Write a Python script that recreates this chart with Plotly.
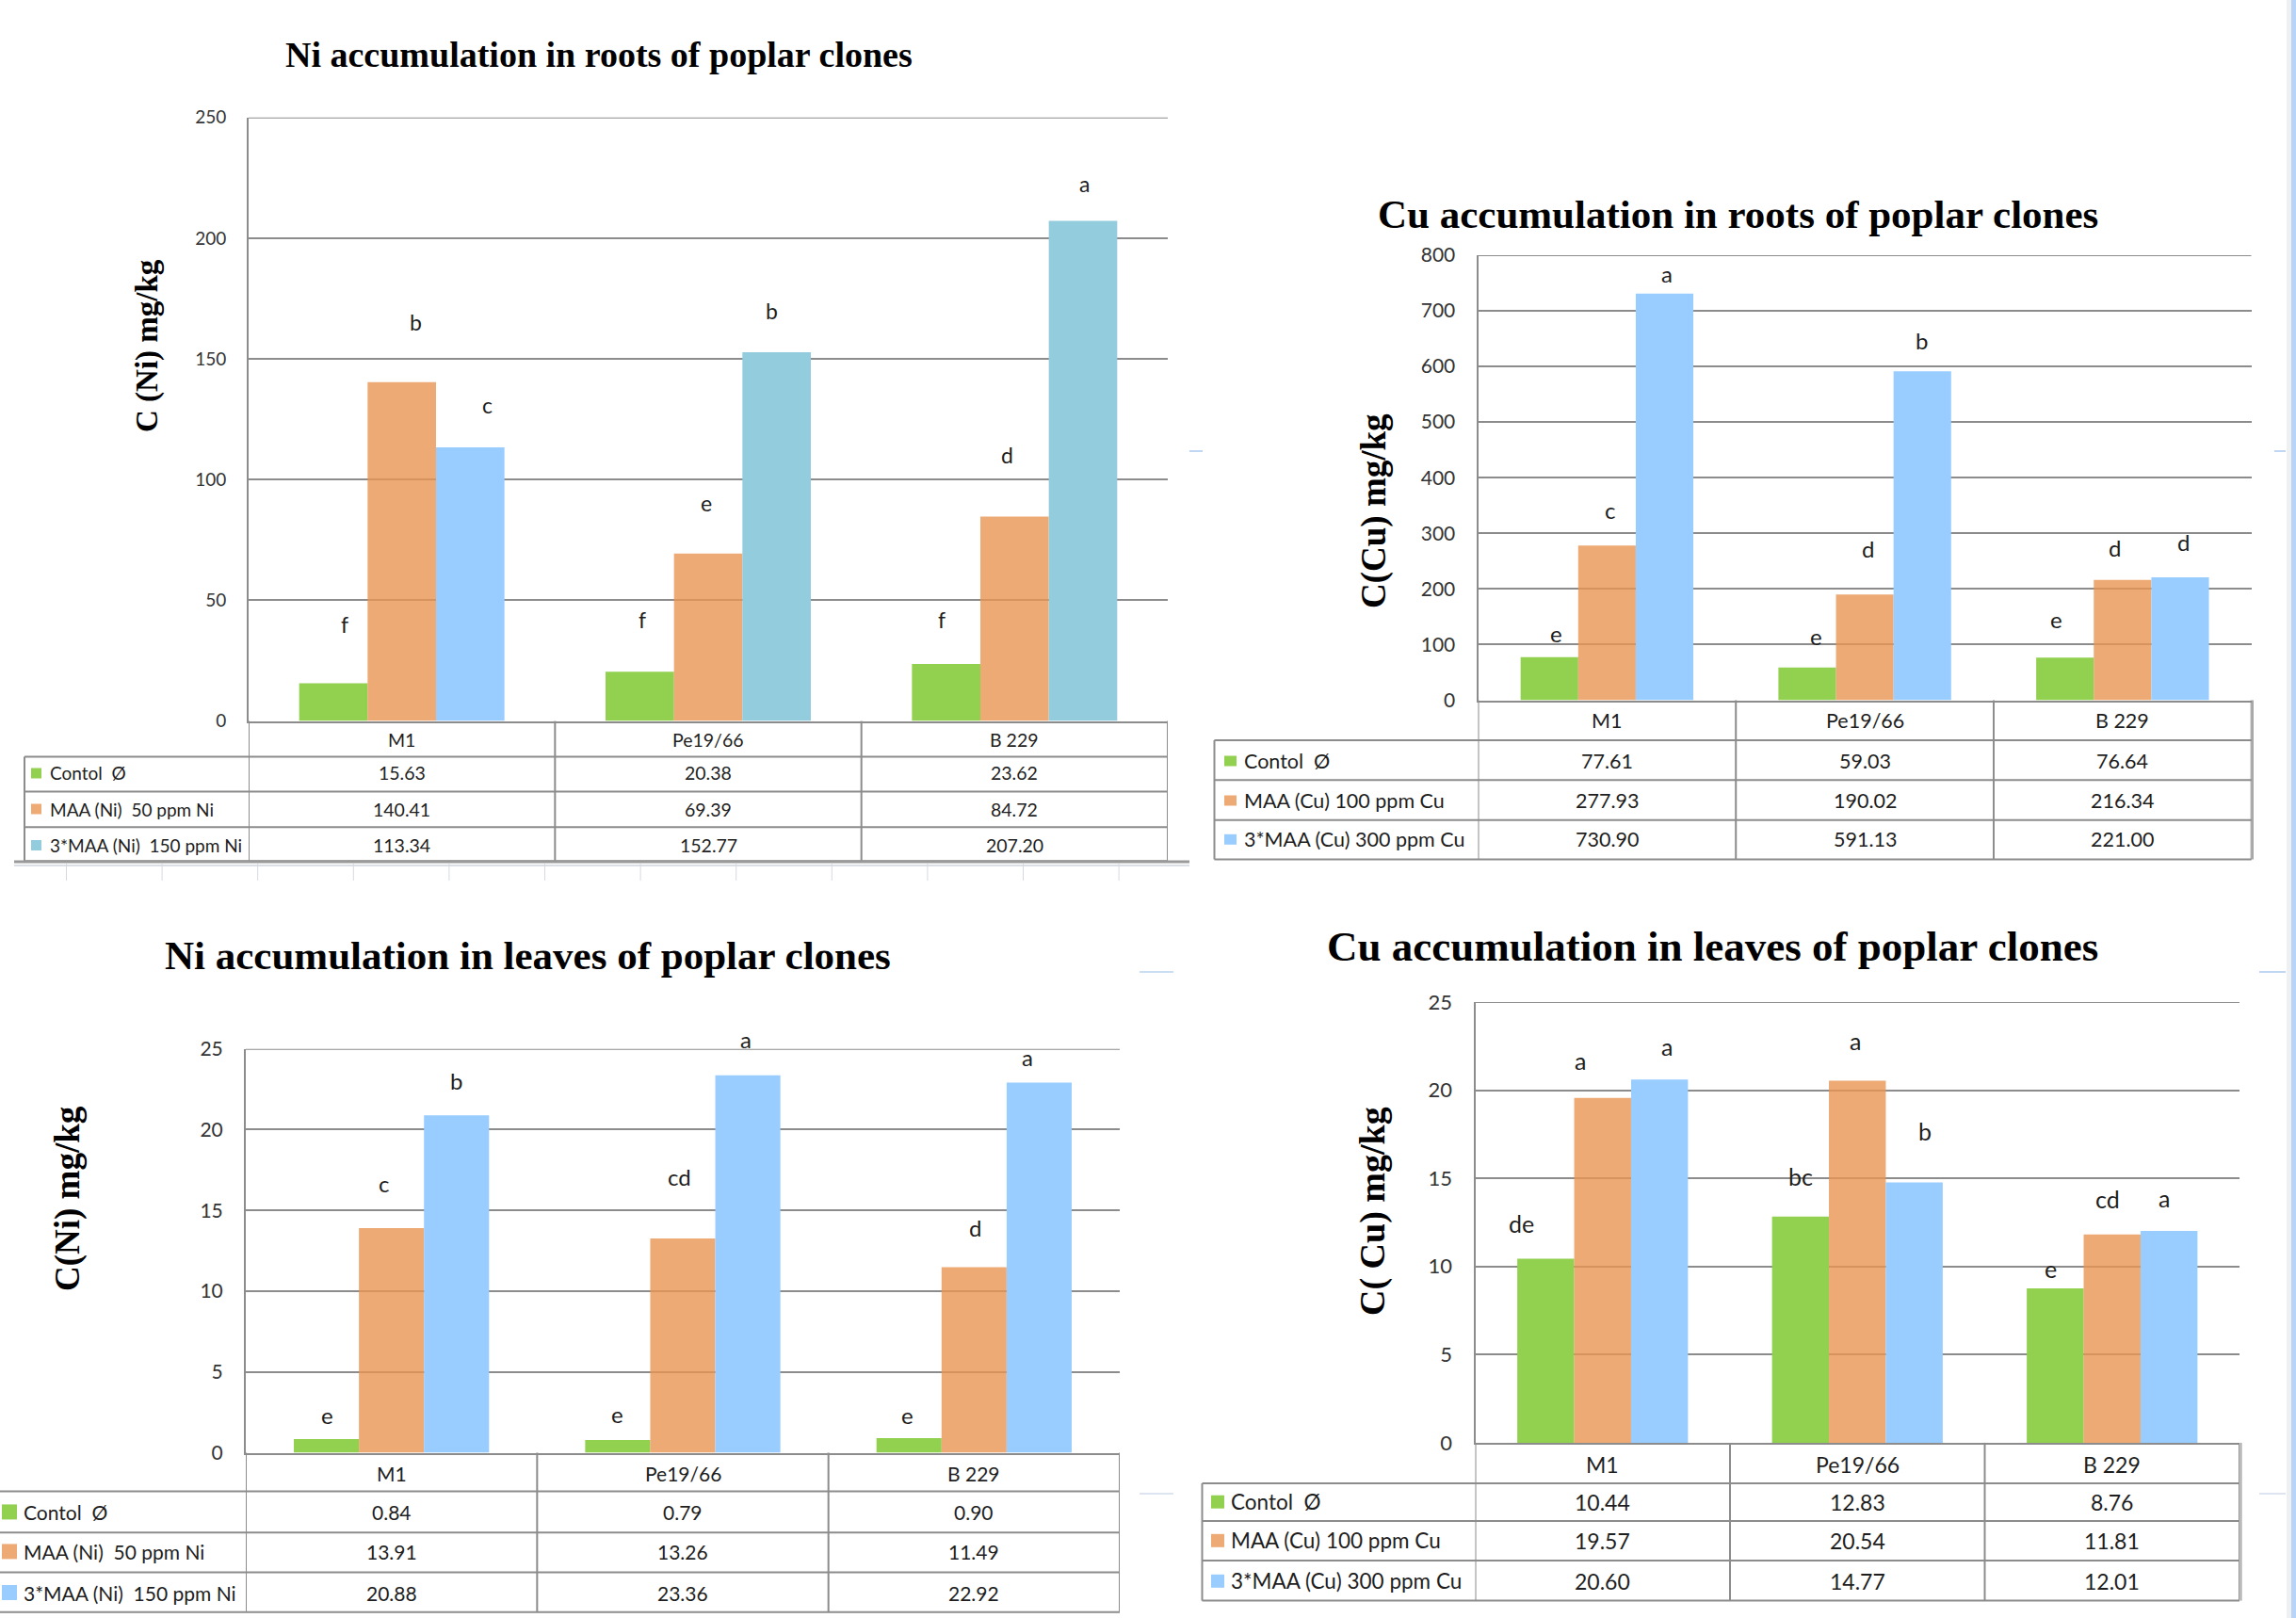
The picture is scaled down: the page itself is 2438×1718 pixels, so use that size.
import plotly.graph_objects as go

W, H = 2438, 1718

# ---------------- data ----------------
clones = ["M1", "Pe19/66", "B 229"]
ni_treatments = ["Contol\u00a0 Ø", "MAA (Ni)\u00a0 50 ppm Ni", "3*MAA (Ni)\u00a0 150 ppm Ni"]
cu_treatments = ["Contol\u00a0 Ø", "MAA (Cu) 100 ppm Cu", "3*MAA (Cu) 300 ppm Cu"]

# Ni accumulation in roots (mg/kg)
ni_roots_control = [15.63, 20.38, 23.62]
ni_roots_maa = [140.41, 69.39, 84.72]
ni_roots_3maa = [113.34, 152.77, 207.20]
ni_roots_sig = [["f", "f", "f"], ["b", "e", "d"], ["c", "b", "a"]]

# Cu accumulation in roots (mg/kg)
cu_roots_control = [77.61, 59.03, 76.64]
cu_roots_maa = [277.93, 190.02, 216.34]
cu_roots_3maa = [730.90, 591.13, 221.00]
cu_roots_sig = [["e", "e", "e"], ["c", "d", "d"], ["a", "b", "d"]]

# Ni accumulation in leaves (mg/kg)
ni_leaves_control = [0.84, 0.79, 0.90]
ni_leaves_maa = [13.91, 13.26, 11.49]
ni_leaves_3maa = [20.88, 23.36, 22.92]
ni_leaves_sig = [["e", "e", "e"], ["c", "cd", "d"], ["b", "a", "a"]]

# Cu accumulation in leaves (mg/kg)
cu_leaves_control = [10.44, 12.83, 8.76]
cu_leaves_maa = [19.57, 20.54, 11.81]
cu_leaves_3maa = [20.60, 14.77, 12.01]
cu_leaves_sig = [["de", "bc", "e"], ["a", "a", "cd"], ["a", "b", "a"]]

# ---------------- styling ----------------
GREEN = "#92D050"
ORANGE_BAR = "rgb(233,149,83)"   # drawn at 0.8 opacity so the grid shows through
ORANGE = "#EDAA75"
BLUE = "#99CCFF"
TEAL = "#93CDDD"
GRID = "#8C8C8C"
TXT = "#1E1E1E"
SANS = "Lato, 'Liberation Sans', sans-serif"
SERIF = "'Liberation Serif', 'Times New Roman', serif"
BARGAP = 0.33

panels = [
    dict(title="Ni accumulation in roots of poplar clones", ytitle="C (Ni) mg/kg",
         series=[ni_roots_control, ni_roots_maa, ni_roots_3maa], sig=ni_roots_sig,
         names=ni_treatments, ymax=250, dtick=50,
         colors=[GREEN, ORANGE_BAR, [BLUE, TEAL, TEAL]], swatch=[GREEN, ORANGE, TEAL],
         box=(264, 1240, 124.7, 765.6), rows=[803.4, 840.5, 878.3, 914.3],
         text_y=[785, 821, 859, 897.5], table_left=26, label_x=51, swatch_x=(33, 44), swatch_h=11,
         title_xy=(636, 58), title_size=38, ytitle_xy=(157, 367), ytitle_size=33,
         tick_size=19, cell_size=19.5, label_size=19, letter_size=23,
         dy=[[63, 55, 47], [64, 54, 65], [45, 44, 39]],
         dx=[[12, 3, -5], [15, -2, -8], [18, -5, 2]]),
    dict(title="Cu accumulation in roots of poplar clones", ytitle="C(Cu) mg/kg",
         series=[cu_roots_control, cu_roots_maa, cu_roots_3maa], sig=cu_roots_sig,
         names=cu_treatments, ymax=800, dtick=100,
         colors=[GREEN, ORANGE_BAR, BLUE], swatch=[GREEN, ORANGE, BLUE],
         box=(1569.5, 2390.7, 270.9, 743.5), rows=[786, 828.3, 870.7, 912.5],
         text_y=[765.4, 808, 850, 891.3], table_left=1289.5, label_x=1318.5, swatch_x=(1300, 1313), swatch_h=11,
         title_xy=(1845, 227), title_size=43, ytitle_xy=(1459, 543), ytitle_size=37,
         tick_size=21, cell_size=21.5, label_size=21.5, letter_size=24,
         dy=[[25, 33, 41], [38, 49, 34], [21, 33, 37]],
         dx=[[7, 10, -9], [3, 3, -8], [2, -1, 4]]),
    dict(title="Ni accumulation in leaves of poplar clones", ytitle="C(Ni) mg/kg",
         series=[ni_leaves_control, ni_leaves_maa, ni_leaves_3maa], sig=ni_leaves_sig,
         names=ni_treatments, ymax=25, dtick=5,
         colors=[GREEN, ORANGE_BAR, BLUE], swatch=[GREEN, ORANGE, BLUE],
         box=(261, 1189, 1113.7, 1542.5), rows=[1583.5, 1627.2, 1669.5, 1711.7],
         text_y=[1564, 1605.4, 1647.4, 1691], table_left=-2, label_x=22.7, swatch_x=(2, 18), swatch_h=16,
         title_xy=(560, 1014), title_size=43, ytitle_xy=(72, 1273), ytitle_size=37,
         tick_size=21, cell_size=21, label_size=21, letter_size=24,
         dy=[[26, 27, 25], [47, 66, 42], [37, 38, 27]],
         dx=[[1, 0, -2], [-8, -4, 1], [0, -2, -12]]),
    dict(title="Cu accumulation in leaves of poplar clones", ytitle="C( Cu) mg/kg",
         series=[cu_leaves_control, cu_leaves_maa, cu_leaves_3maa], sig=cu_leaves_sig,
         names=cu_treatments, ymax=25, dtick=5,
         colors=[GREEN, ORANGE_BAR, BLUE], swatch=[GREEN, ORANGE, BLUE],
         box=(1566.5, 2378, 1064, 1531.9), rows=[1575, 1615, 1657, 1699.6],
         text_y=[1554.6, 1594.7, 1635.8, 1678.8], table_left=1276.5, label_x=1305, swatch_x=(1286, 1300), swatch_h=14,
         title_xy=(1818, 1004.5), title_size=45, ytitle_xy=(1457, 1286), ytitle_size=38,
         tick_size=22, cell_size=23, label_size=22.5, letter_size=25,
         dy=[[38, 43, 21], [40, 42.5, 37.6], [35, 54, 35]],
         dx=[[-26, 0, -5], [-24, -2, -5], [8, 11, -5]]),
]


def px(x):
    return x / W


def py(y):
    return 1 - y / H


fig = go.Figure()
shapes = []
annotations = []
bw = (1 - BARGAP) / 3
xs = list(range(len(clones)))

for i, p in enumerate(panels):
    sfx = "" if i == 0 else str(i + 1)
    xa, ya = "x" + sfx, "y" + sfx
    l, r, t, b = p["box"]

    for k, (vals, name, col) in enumerate(zip(p["series"], p["names"], p["colors"])):
        fig.add_trace(go.Bar(
            x=xs, y=vals, name=name, xaxis=xa, yaxis=ya, showlegend=False,
            marker=dict(color=col, line=dict(width=0), opacity=0.8 if k == 1 else 1.0),
        ))
        # significance letters above each bar
        for j, v in enumerate(vals):
            annotations.append(dict(
                x=j + (k - 1) * bw, y=v, xref=xa, yref=ya, text=p["sig"][k][j],
                showarrow=False, yanchor="middle", xanchor="center",
                yshift=p["dy"][k][j], xshift=p["dx"][k][j],
                font=dict(family=SANS, size=p["letter_size"], color=TXT)))

    fig.update_layout(**{
        "xaxis" + sfx: dict(domain=[px(l), px(r)], range=[-0.5, 2.5], anchor=ya, automargin=False,
                            showticklabels=False, showgrid=False, zeroline=False,
                            showline=True, linecolor=GRID, linewidth=2, ticks="", fixedrange=True),
        "yaxis" + sfx: dict(domain=[py(b), py(t)], range=[0, p["ymax"]], dtick=p["dtick"], anchor=xa,
                            automargin=False,
                            showgrid=True, gridcolor=GRID, gridwidth=2, zeroline=False,
                            showline=True, linecolor=GRID, linewidth=2, ticks="",
                            ticklabelstandoff=18,
                            tickfont=dict(family=SANS, size=p["tick_size"], color="#333333"),
                            fixedrange=True),
    })

    # top gridline at the end of the value range
    shapes.append(dict(type="line", xref=xa, yref=ya, x0=-0.5, x1=2.5, y0=p["ymax"], y1=p["ymax"],
                       line=dict(color=GRID, width=2), layer="below"))

    # chart title and value axis title
    annotations.append(dict(x=px(p["title_xy"][0]), y=py(p["title_xy"][1]), xref="paper", yref="paper",
                            text="<b>%s</b>" % p["title"], showarrow=False, xanchor="center", yanchor="middle",
                            font=dict(family=SERIF, size=p["title_size"], color="#000000")))
    annotations.append(dict(x=px(p["ytitle_xy"][0]), y=py(p["ytitle_xy"][1]), xref="paper", yref="paper",
                            text="<b>%s</b>" % p["ytitle"], showarrow=False, textangle=-90,
                            xanchor="center", yanchor="middle",
                            font=dict(family=SERIF, size=p["ytitle_size"], color="#000000")))

    # data table under the plot
    rows = p["rows"]
    lw = dict(color=GRID, width=2)
    for yy in rows:
        shapes.append(dict(type="line", xref="paper", yref="paper",
                           x0=px(p["table_left"]), x1=px(r), y0=py(yy), y1=py(yy), line=lw))
    shapes.append(dict(type="line", xref="paper", yref="paper",
                       x0=px(p["table_left"]), x1=px(p["table_left"]), y0=py(rows[0]), y1=py(rows[-1]), line=lw))
    for c in [-0.5, 0.5, 1.5, 2.5]:
        shapes.append(dict(type="line", xref=xa, yref="paper", x0=c, x1=c,
                           y0=py(b), y1=py(rows[-1]), line=lw))
    for j, c in enumerate(clones):
        annotations.append(dict(x=j, y=py(p["text_y"][0]), xref=xa, yref="paper", text=c,
                                showarrow=False, xanchor="center", yanchor="middle",
                                font=dict(family=SANS, size=p["cell_size"], color=TXT)))
    for k, (vals, name) in enumerate(zip(p["series"], p["names"])):
        ty = p["text_y"][k + 1]
        sx0, sx1 = p["swatch_x"]
        hh = p["swatch_h"] / 2
        shapes.append(dict(type="rect", xref="paper", yref="paper", x0=px(sx0), x1=px(sx1),
                           y0=py(ty + hh), y1=py(ty - hh), fillcolor=p["swatch"][k], line=dict(width=0)))
        annotations.append(dict(x=px(p["label_x"]), y=py(ty), xref="paper", yref="paper", text=name,
                                showarrow=False, xanchor="left", yanchor="middle",
                                font=dict(family=SANS, size=p["label_size"], color=TXT)))
        for j, v in enumerate(vals):
            annotations.append(dict(x=j, y=py(ty), xref=xa, yref="paper", text="%.2f" % v,
                                    showarrow=False, xanchor="center", yanchor="middle",
                                    font=dict(family=SANS, size=p["cell_size"], color=TXT)))

# heavier bottom rule under the first table, with sheet gridlines beneath
shapes.append(dict(type="line", xref="paper", yref="paper", x0=px(15), x1=px(1263),
                   y0=py(915), y1=py(915), line=dict(color="#9A9A9A", width=3)))
shapes.append(dict(type="line", xref="paper", yref="paper", x0=px(15), x1=px(1263),
                   y0=py(919), y1=py(919), line=dict(color="#DCDFE6", width=2)))
for k in range(12):
    xx = 70.5 + 101.6 * k
    shapes.append(dict(type="line", xref="paper", yref="paper", x0=px(xx), x1=px(xx),
                       y0=py(917), y1=py(935), line=dict(color="#D5D9E4", width=1)))
# thicker right edges of the Cu tables
for xx, y0, y1 in [(2392, 743.5, 912.5), (2379.5, 1531.9, 1699.6)]:
    shapes.append(dict(type="line", xref="paper", yref="paper", x0=px(xx), x1=px(xx),
                       y0=py(y0), y1=py(y1), line=dict(color="#A8A8A8", width=2)))

# page edge strip and small slide marks
shapes.append(dict(type="rect", xref="paper", yref="paper", x0=px(2428), x1=px(2433), y0=0, y1=1,
                   fillcolor="#EEF0F2", line=dict(width=0)))
shapes.append(dict(type="rect", xref="paper", yref="paper", x0=px(2433), x1=1, y0=0, y1=1,
                   fillcolor="#B7D3F6", line=dict(width=0)))
for x0, x1, yy, col in [(1263, 1277, 479, "#BFD7F2"), (2415, 2427, 479, "#BFD7F2"),
                        (1210, 1246, 1032, "#C9DDF3"), (2399, 2427, 1032, "#BFD7F2"),
                        (1210, 1246, 1586, "#DDE6F0"), (2399, 2427, 1586, "#DDE6F0")]:
    shapes.append(dict(type="line", xref="paper", yref="paper", x0=px(x0), x1=px(x1),
                       y0=py(yy), y1=py(yy), line=dict(color=col, width=2)))

fig.update_layout(
    width=W, height=H, margin=dict(l=0, r=0, t=0, b=0, pad=0, autoexpand=False),
    paper_bgcolor="white", plot_bgcolor="rgba(0,0,0,0)",
    barmode="group", bargap=BARGAP, bargroupgap=0,
    shapes=shapes, annotations=annotations, showlegend=False,
)

fig.write_html("out.html")
